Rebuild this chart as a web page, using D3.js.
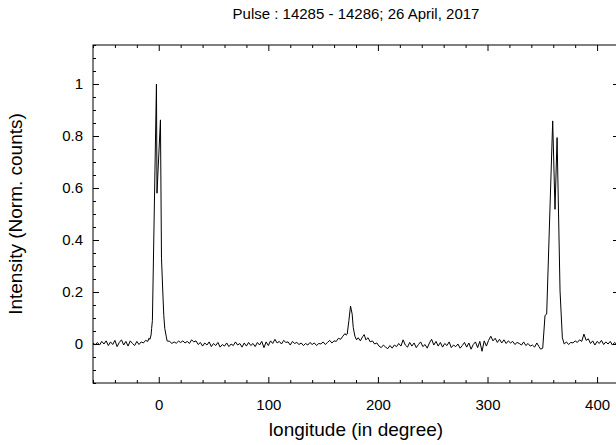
<!DOCTYPE html>
<html>
<head>
<meta charset="utf-8">
<script src="https://cdn.jsdelivr.net/npm/d3@7"></script>
<style>
  html, body { margin: 0; padding: 0; background: #fff; }
  svg { display: block; font-family: "Liberation Sans", Arial, sans-serif; }
</style>
</head>
<body>
<svg id="chart" width="616" height="445"></svg>
<script>
// ---- data ----
const titleText = "Pulse : 14285 - 14286; 26 April, 2017";
const xLabel = "longitude (in degree)";
const yLabel = "Intensity (Norm. counts)";

const longitude = [
  -60,-58,-56,-54,-52,-50,-48,-46,-44,-42,-40,-38,-36,-34,-32,-30,-28,-26,-24,-22,-20,-18,-16,-14,-12,-10,
  -9,-8,-7,-6.5,-5.8,-2.1,-1.6,1.55,2.5,3.7,4.6,5.5,6.8,7.6,
  10,12,14,16,18,20,22,24,26,28,30,32,34,36,38,40,42,44,46,48,50,52,54,56,58,60,62,64,66,68,70,
  72,74,76,78,80,82,84,86,88,90,92,94,96,98,100,102,104,106,108,110,112,114,116,118,120,122,124,126,128,130,
  132,134,136,138,140,142,144,146,148,150,152,154,156,158,160,
  162,164,166,168,170,171,172,173.5,175,176.5,177.5,179,180.5,182,184,186,187.5,189,191,193,195,197,199,
  201,203,205,207,209,211,213,215,217,219,221,223,225,227,229,231,233,235,237,239,241,243,245,247,249,
  251,253,255,257,259,261,263,265,267,269,271,273,275,277,279,281,283,285,287,289,291,293,295,297,299,
  301,303,305,307,309,311,313,315,317,319,321,323,325,327,329,331,333,335,337,339,341,343,345,347,348.5,350.4,
  352.5,354,359.5,361.6,363.5,366.2,368.3,370,
  372,374,376,378,380,382,384,386,388,390,392,394,396,398,400,402,404,406,408,410,412,414,416,418,420
];

const intensity = [
  0.004,-0.003,0.006,-0.004,0.010,0.000,0.012,-0.006,0.008,-0.002,0.014,-0.010,0.006,0.016,-0.004,0.010,-0.008,0.012,0.002,-0.006,0.010,-0.002,0.008,0.004,0.014,0.010,
  0.022,0.018,0.035,0.060,0.090,1.000,0.580,0.862,0.330,0.200,0.110,0.060,0.030,0.012,
  0.010,0.002,0.008,0.003,0.011,0.006,0.012,0.004,0.010,0.002,0.016,0.008,0.012,-0.002,0.006,-0.008,0.004,-0.004,0.008,-0.010,0.002,-0.006,0.006,-0.012,-0.002,-0.008,0.004,-0.010,0.000,-0.006,0.008,
  -0.004,0.002,-0.012,0.004,-0.008,0.006,-0.006,0.002,-0.010,0.006,-0.004,0.010,-0.014,0.008,-0.006,0.012,0.002,0.018,0.004,0.010,0.000,0.014,0.006,0.008,-0.004,0.010,0.002,0.006,-0.002,0.004,
  -0.006,0.002,-0.004,0.006,-0.002,0.004,-0.006,0.002,0.000,0.008,-0.002,0.006,0.014,0.004,0.012,
  0.010,0.022,0.018,0.030,0.040,0.034,0.038,0.090,0.146,0.115,0.063,0.030,0.016,0.024,0.012,0.028,0.036,0.016,0.024,0.008,0.012,0.000,0.004,
  -0.008,-0.014,-0.004,-0.012,-0.018,-0.006,-0.016,-0.004,-0.010,0.002,-0.008,0.016,-0.004,-0.012,0.006,-0.008,0.004,-0.014,-0.002,0.008,-0.010,-0.002,-0.016,0.004,0.018,
  -0.004,0.010,-0.008,0.006,-0.012,0.002,-0.006,0.008,-0.014,-0.004,-0.010,0.000,-0.016,-0.006,0.006,-0.012,0.004,-0.020,-0.002,0.008,-0.014,0.010,-0.028,0.012,-0.008,
  0.014,0.030,0.012,0.022,0.006,0.018,0.004,0.016,0.002,0.012,0.004,0.010,-0.002,0.006,0.002,-0.004,0.008,-0.006,0.002,-0.008,-0.004,-0.012,0.004,-0.010,-0.020,-0.016,
  0.110,0.115,0.858,0.518,0.794,0.204,0.024,0.000,
  0.008,-0.002,0.006,0.004,0.012,0.006,0.016,0.010,0.038,0.014,0.020,0.002,0.012,-0.004,0.010,0.002,0.014,-0.002,0.008,0.000,0.010,-0.004,0.006,-0.002,0.002
];

const xMajorTicks = [0, 100, 200, 300, 400];
const xMinorTicks = [-60, -40, -20, 20, 40, 60, 80, 120, 140, 160, 180, 220, 240, 260, 280, 320, 340, 360, 380, 420];
const yMajorTicks = [0, 0.2, 0.4, 0.6, 0.8, 1];
const yMinorTicks = [-0.15, -0.1, -0.05, 0.05, 0.1, 0.15, 0.25, 0.3, 0.35, 0.45, 0.5, 0.55, 0.65, 0.7, 0.75, 0.85, 0.9, 0.95, 1.05, 1.1, 1.15];
const xDomain = [-60, 420];
const yDomain = [-0.15, 1.15];

// ---- layout ----
const W = 616, H = 445;
const margin = { left: 93, right: -3, top: 45, bottom: 62 };
const plotL = margin.left, plotR = W - margin.right, plotT = margin.top, plotB = H - margin.bottom;

const svg = d3.select("#chart");
const x = d3.scaleLinear().domain(xDomain).range([plotL, plotR]);
const y = d3.scaleLinear().domain(yDomain).range([plotB, plotT]);

svg.append("defs").append("clipPath").attr("id", "clip")
  .append("rect").attr("x", plotL).attr("y", plotT).attr("width", plotR - plotL).attr("height", plotB - plotT);

const points = longitude.map((d, i) => [d, intensity[i]]);
svg.append("path")
  .datum(points)
  .attr("clip-path", "url(#clip)")
  .attr("fill", "none")
  .attr("stroke", "#000")
  .attr("stroke-width", 1)
  .attr("stroke-linejoin", "miter")
  .attr("d", d3.line().x(d => x(d[0])).y(d => y(d[1])));

const fmt = d3.format("~g");
const fontSize = 15;

function styleAxis(g) {
  g.select(".domain").remove();
  g.selectAll(".tick line").attr("stroke", "#000").attr("stroke-width", 1);
  g.selectAll("text").attr("font-size", fontSize).attr("fill", "#000")
    .attr("font-family", "Liberation Sans, Arial, sans-serif");
}

// bottom
svg.append("g").attr("transform", `translate(0,${plotB})`)
  .call(d3.axisBottom(x).tickValues(xMajorTicks).tickSize(-6).tickPadding(16).tickFormat(fmt)).call(styleAxis);
svg.append("g").attr("transform", `translate(0,${plotB})`)
  .call(d3.axisBottom(x).tickValues(xMinorTicks).tickSize(-3).tickFormat("")).call(styleAxis);
// top
svg.append("g").attr("transform", `translate(0,${plotT})`)
  .call(d3.axisTop(x).tickValues(xMajorTicks).tickSize(-6).tickFormat("")).call(styleAxis);
svg.append("g").attr("transform", `translate(0,${plotT})`)
  .call(d3.axisTop(x).tickValues(xMinorTicks).tickSize(-3).tickFormat("")).call(styleAxis);
// left
svg.append("g").attr("transform", `translate(${plotL},0)`)
  .call(d3.axisLeft(y).tickValues(yMajorTicks).tickSize(-6).tickPadding(10).tickFormat(fmt)).call(styleAxis);
svg.append("g").attr("transform", `translate(${plotL},0)`)
  .call(d3.axisLeft(y).tickValues(yMinorTicks).tickSize(-3).tickFormat("")).call(styleAxis);
// right
svg.append("g").attr("transform", `translate(${plotR},0)`)
  .call(d3.axisRight(y).tickValues(yMajorTicks).tickSize(-6).tickFormat("")).call(styleAxis);
svg.append("g").attr("transform", `translate(${plotR},0)`)
  .call(d3.axisRight(y).tickValues(yMinorTicks).tickSize(-3).tickFormat("")).call(styleAxis);

// frame
svg.append("rect")
  .attr("x", plotL).attr("y", plotT)
  .attr("width", plotR - plotL).attr("height", plotB - plotT)
  .attr("fill", "none").attr("stroke", "#000").attr("stroke-width", 1);

// title
const cx = (plotL + plotR) / 2;
svg.append("text")
  .attr("x", cx).attr("y", 19)
  .attr("text-anchor", "middle")
  .attr("font-size", 15)
  .text(titleText);

// x label
svg.append("text")
  .attr("x", cx).attr("y", 436)
  .attr("text-anchor", "middle")
  .attr("font-size", 19)
  .text(xLabel);

// y label
svg.append("text")
  .attr("transform", `translate(22,${(plotT + plotB) / 2}) rotate(-90)`)
  .attr("text-anchor", "middle")
  .attr("font-size", 19)
  .text(yLabel);
</script>
</body>
</html>
